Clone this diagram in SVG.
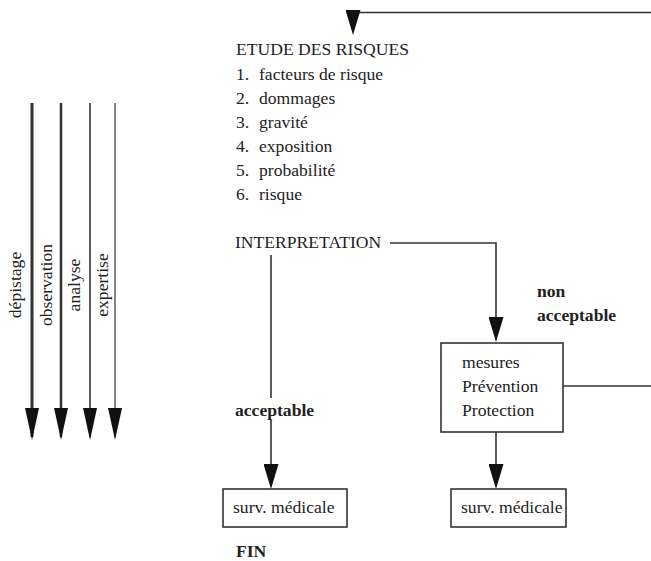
<svg xmlns="http://www.w3.org/2000/svg" width="651" height="561" viewBox="0 0 651 561">
<style>
text{font-family:"Liberation Serif","Times New Roman",serif;font-size:17.6px;fill:#222}
.b{font-weight:bold}
.c{fill:none;stroke:#333;stroke-width:1.6}
.box{fill:#fff;stroke:#333;stroke-width:1.6}
</style>
<defs>
<marker id="ah" markerUnits="userSpaceOnUse" markerWidth="26" markerHeight="15" refX="22" refY="7.5" orient="auto"><path d="M0,0 L25,7.5 L0,15 z" fill="#111"/></marker>
<marker id="ahL" markerUnits="userSpaceOnUse" markerWidth="33" markerHeight="14" refX="29" refY="7" orient="auto"><path d="M0,0 L32,7 L0,14 z" fill="#111"/></marker>
</defs>
<rect width="651" height="561" fill="#fff"/>
<g id="connectors">
<path class="c" d="M651,12.5 H353 V32" marker-end="url(#ah)"/>
<path class="c" d="M390,243 H496 V339" marker-end="url(#ah)"/>
<path class="c" d="M563,386 H651"/>
<path class="c" d="M271,255 V398"/>
<path class="c" d="M271,420 V486" marker-end="url(#ah)"/>
<path class="c" d="M496,432 V486" marker-end="url(#ah)"/>
<path class="c" style="stroke-width:3" d="M32,103 V437" marker-end="url(#ahL)"/>
<path class="c" style="stroke-width:2.5" d="M61,103 V437" marker-end="url(#ahL)"/>
<path class="c" style="stroke-width:1.6" d="M90,103 V437" marker-end="url(#ahL)"/>
<path class="c" style="stroke-width:1.2" d="M115,103 V437" marker-end="url(#ahL)"/>
</g>
<g id="labels-left">
<text transform="translate(21,285) rotate(-90)" text-anchor="middle">dépistage</text>
<text transform="translate(52,285) rotate(-90)" text-anchor="middle">observation</text>
<text transform="translate(80,285) rotate(-90)" text-anchor="middle">analyse</text>
<text transform="translate(108,285) rotate(-90)" text-anchor="middle">expertise</text>
</g>
<g id="etude">
<text x="236" y="55">ETUDE DES RISQUES</text>
<text x="236" y="80">1.</text><text x="259" y="80">facteurs de risque</text>
<text x="236" y="104">2.</text><text x="259" y="104">dommages</text>
<text x="236" y="128">3.</text><text x="259" y="128">gravité</text>
<text x="236" y="152">4.</text><text x="259" y="152">exposition</text>
<text x="236" y="176">5.</text><text x="259" y="176">probabilité</text>
<text x="236" y="200">6.</text><text x="259" y="200">risque</text>
</g>
<g id="interpretation"><text x="235" y="248">INTERPRETATION</text></g>
<g id="non-acceptable"><text class="b" x="537" y="297">non</text><text class="b" x="537" y="321">acceptable</text></g>
<g id="acceptable"><text class="b" x="235" y="416">acceptable</text></g>
<g id="mesures">
<rect class="box" x="441" y="343" width="122" height="89"/>
<text x="462" y="368">mesures</text>
<text x="462" y="392">Prévention</text>
<text x="462" y="416">Protection</text>
</g>
<g id="surv-left">
<rect class="box" x="223" y="489" width="124" height="38"/>
<text x="233" y="513">surv. médicale</text>
</g>
<g id="surv-right">
<rect class="box" x="451" y="489" width="115" height="38"/>
<text x="461" y="513">surv. médicale</text>
</g>
<g id="fin"><text class="b" x="236" y="557">FIN</text></g>
</svg>
